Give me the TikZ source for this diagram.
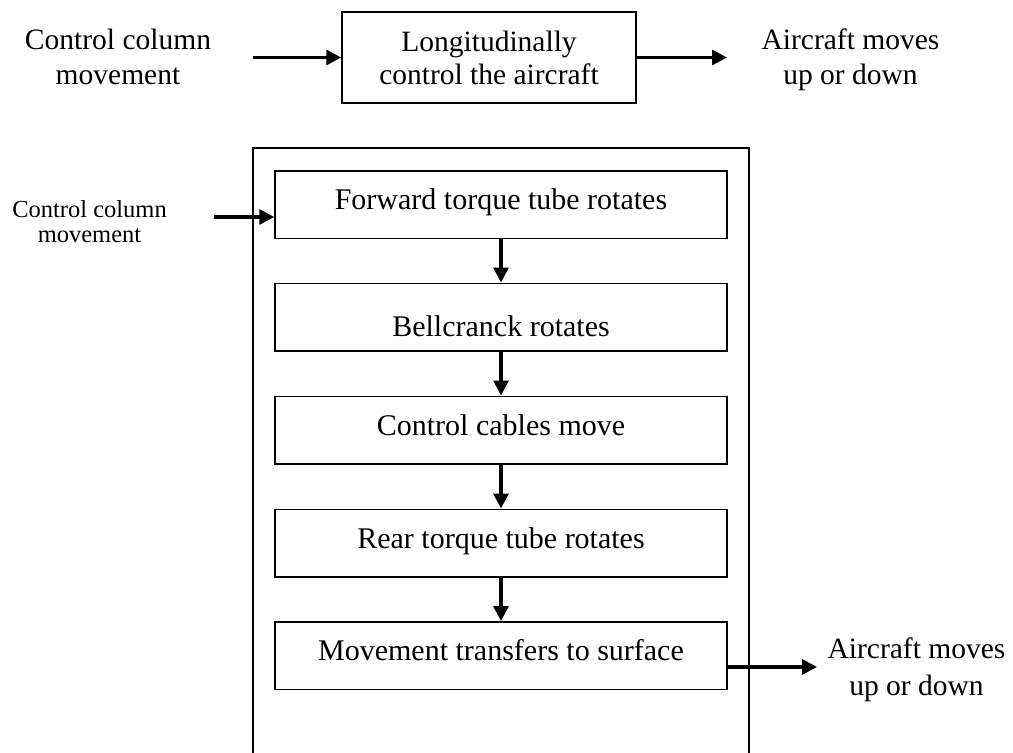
\documentclass[tikz,border=0pt]{standalone}
\usepackage{fontspec}
\setmainfont{Liberation Serif}
\usetikzlibrary{arrows.meta}
\tikzset{
  lbl/.style={align=center, inner sep=0pt, font=\fontsize{29.5}{35}\selectfont},
  smalllbl/.style={align=center, inner sep=0pt, font=\fontsize{24.5}{25}\selectfont},
  topbox/.style={draw, line width=1.5pt, minimum width=294pt, minimum height=91pt, inner sep=0pt, align=center, font=\fontsize{29.5}{33}\selectfont},
  stepbox/.style={draw, line width=1.5pt, minimum width=452pt, minimum height=67.5pt, inner sep=0pt, font=\fontsize{30}{36}\selectfont, text height=#1, text depth=0pt},
  arr/.style={line width=3.2pt, -{Triangle[length=15pt,width=15pt]}},
  frame/.style={line width=1.5pt}
}
\begin{document}
\begin{tikzpicture}[x=1pt,y=-1pt]
\useasboundingbox (0,0) rectangle (1013,753);
% top row
\node[lbl] (cc1) at (118,56.5) {Control column\\movement};
\node[topbox] (top) at (489,57.5) {Longitudinally\\control the aircraft};
\node[lbl] (am1) at (850.5,59.7) {Aircraft moves\\up or down};
\coordinate (inL) at (253,57.5);
\coordinate (outR) at (727,57.5);
\draw[arr] (inL) -- (top.west);
\draw[arr] (top.east) -- (outR);
% frame
\draw[frame] (253,760) |- (749,148) -- (749,760);
% steps
\node[stepbox=9pt]  (b1) at (501,204.5) {Forward torque tube rotates};
\node[stepbox=38pt] (b2) at (501,317) {Bellcranck rotates};
\node[stepbox=10pt] (b3) at (501,430) {Control cables move};
\node[stepbox=10pt] (b4) at (501,543) {Rear torque tube rotates};
\node[stepbox=9pt]  (b5) at (501,655.5) {Movement transfers to surface};
\draw[arr] (b1.south) -- (b2.north);
\draw[arr] (b2.south) -- (b3.north);
\draw[arr] (b3.south) -- (b4.north);
\draw[arr] (b4.south) -- (b5.north);
% side labels
\node[smalllbl] (cc2) at (89.5,222) {Control column\\movement};
\coordinate (in2) at (214,217);
\draw[arr] (in2) -- (in2 -| b1.west);
\node[lbl, font=\fontsize{29.5}{37}\selectfont] (am2) at (916.5,670) {Aircraft moves\\up or down};
\coordinate (out2) at (817,667);
\draw[arr] (out2 -| b5.east) -- (out2);
\end{tikzpicture}
\end{document}
